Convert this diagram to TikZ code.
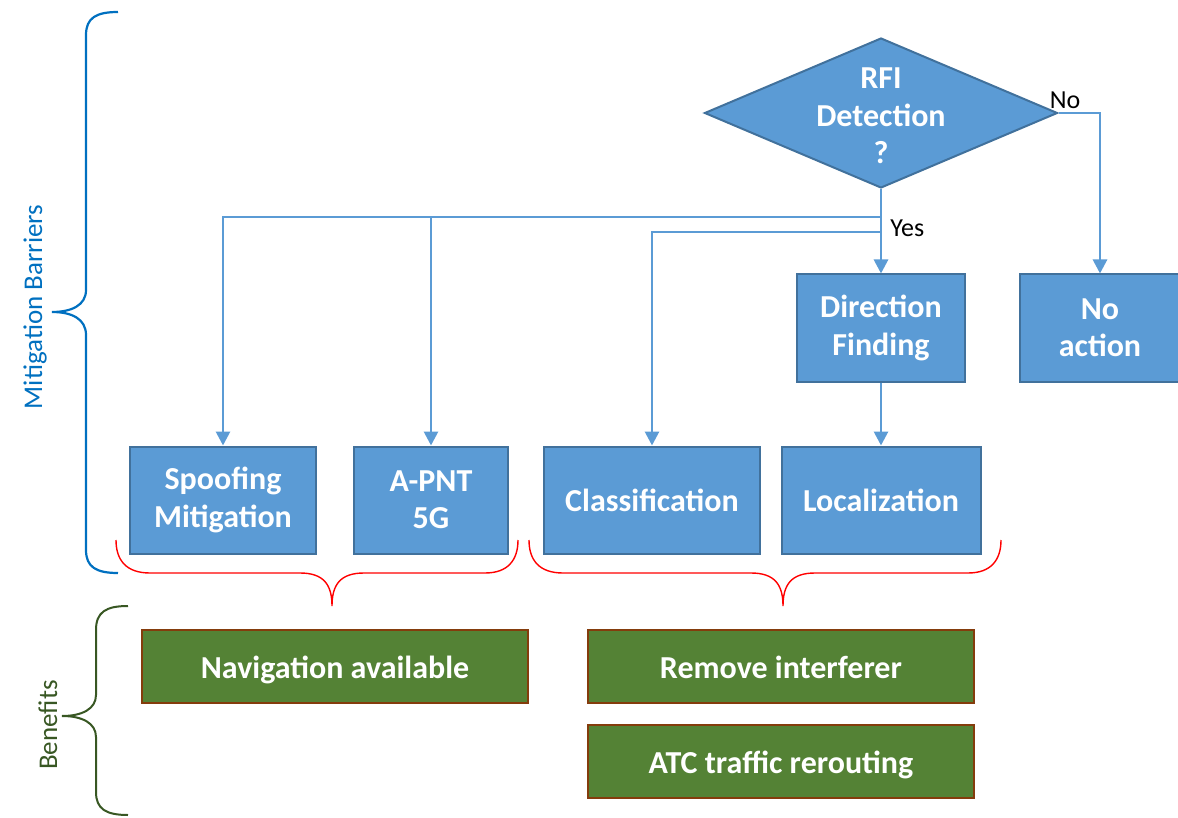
\documentclass[tikz,border=0pt]{standalone}
\usepackage{fontspec}
\setmainfont{Carlito}
\usetikzlibrary{shapes.geometric,arrows.meta}
\definecolor{boxblue}{HTML}{5B9BD5}
\definecolor{boxedge}{HTML}{41719C}
\definecolor{benefitgreen}{HTML}{548235}
\definecolor{benefitedge}{HTML}{843C0C}
\definecolor{barrierblue}{HTML}{0070C0}
\definecolor{benefitdark}{HTML}{385723}

\begin{document}
\begin{tikzpicture}
  [x=0.5pt,y=-0.5pt,
   barrier/.style={rectangle,draw=boxedge,fill=boxblue,line width=1pt,text=white,
     font=\fontsize{16}{18.7}\selectfont\bfseries,align=center,minimum height=53.5pt,inner sep=2pt},
   benefit/.style={rectangle,draw=benefitedge,fill=benefitgreen,line width=1pt,text=white,
     font=\fontsize{16}{18.7}\selectfont\bfseries,minimum width=193pt,minimum height=36.5pt,
     text height=13pt,text depth=1pt},
   decision/.style={diamond,draw=boxedge,fill=boxblue,line width=1pt,inner sep=0pt,
     minimum width=176.5pt,minimum height=75pt},
   flow/.style={draw=boxblue,line width=1.4pt,-{Triangle[width=7pt,length=7pt]}},
   answer/.style={font=\fontsize{13}{15}\selectfont,inner sep=0pt}]
  \useasboundingbox (0,0) rectangle (1178,818);

  % decision
  \node[decision] (rfi) at (881,113) {};
  \node[text=white,font=\fontsize{16}{18.7}\selectfont\bfseries,align=center] (rfitext) at (881,116) {RFI\\Detection\\?};

  % barriers
  \node[barrier,minimum width=84pt] (dirfind) at (881,328) {Direction\\Finding};
  \node[barrier,minimum width=80.5pt] (noaction) at (1100,328) {No\\action};
  \node[barrier,minimum width=93pt] (spoof) at (223,500) {Spoofing\\Mitigation};
  \node[barrier,minimum width=77pt] (apnt) at (431,500) {A-PNT\\5G};
  \node[barrier,minimum width=108pt] (classif) at (652,500) {Classification};
  \node[barrier,minimum width=99.5pt] (local) at (881,500) {Localization};

  % benefits
  \node[benefit] (navavail) at (335,666) {Navigation available};
  \node[benefit] (removeint) at (781,666) {Remove interferer};
  \node[benefit] (atcreroute) at (781,761) {ATC traffic rerouting};

  \coordinate (j1) at (881,217);
  \coordinate (j2) at (881,232);

  \foreach \from/\to in {rfi/dirfind, dirfind/local}
    \draw[flow] (\from) -- (\to);
  \foreach \from/\to in {j1/spoof, j1/apnt, j2/classif}
    \draw[flow] (\from) -| (\to);
  \draw[flow] (rfi.east) -| (noaction);

  \node[answer,anchor=west] (yes) at (890,228) {Yes};
  \node[answer] (no) at (1065,100) {No};

  % braces
  \draw[red,line width=0.7pt] (116,540) .. controls (116,560) and (126,573) .. (150,573) -- (300,573)
    .. controls (324,573) and (332,585) .. (332,606) .. controls (332,585) and (340,573) .. (364,573)
    -- (485,573) .. controls (508,573) and (518,560) .. (518,540);
  \draw[red,line width=0.7pt] (529,540) .. controls (529,560) and (539,573) .. (563,573) -- (751,573)
    .. controls (775,573) and (783,585) .. (783,606) .. controls (783,585) and (791,573) .. (815,573)
    -- (968,573) .. controls (991,573) and (1001,560) .. (1001,540);
  \draw[barrierblue,line width=1.1pt] (118,12) .. controls (96,12) and (86,18) .. (86,35) -- (86,290)
    .. controls (86,305) and (72,312) .. (52,312) .. controls (72,312) and (86,319) .. (86,335)
    -- (86,550) .. controls (86,567) and (96,573) .. (118,573);
  \draw[benefitdark,line width=1pt] (128,606) .. controls (106,606) and (96,612) .. (96,630) -- (96,695)
    .. controls (96,709) and (82,716) .. (62,716) .. controls (82,716) and (96,723) .. (96,737)
    -- (96,792) .. controls (96,809) and (106,815) .. (128,815);

  \node[rotate=90,text=barrierblue,font=\fontsize{13.5}{15}\selectfont] (barrierlabel) at (35,307) {Mitigation Barriers};
  \node[rotate=90,text=benefitdark,font=\fontsize{13.5}{15}\selectfont] (benefitlabel) at (48,725) {Benefits};
\end{tikzpicture}
\end{document}
